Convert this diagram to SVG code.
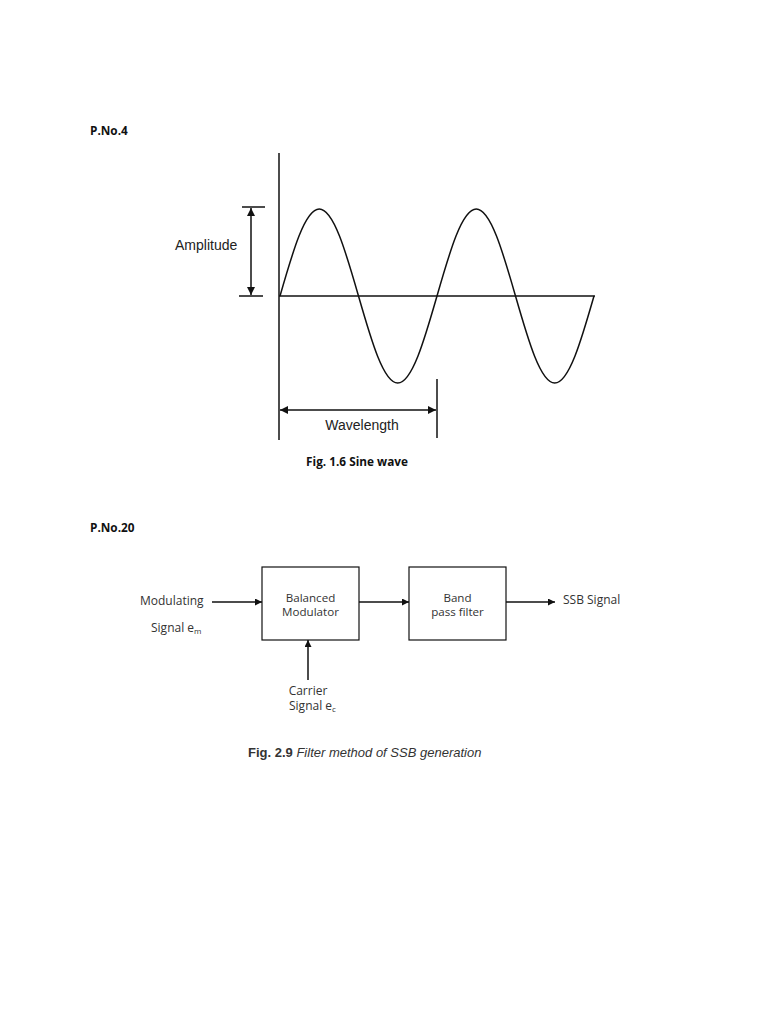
<svg xmlns="http://www.w3.org/2000/svg" width="768" height="1024" viewBox="0 0 768 1024">
<style>
.ln{stroke:#111;stroke-width:1.5;fill:none}
.bx{stroke:#111;stroke-width:1.2;fill:#fff}
.ar{font-family:"Liberation Sans",Arial,sans-serif;font-size:14px;fill:#222}
.cb{font-family:"Open Sans","Liberation Sans",sans-serif;font-size:12px;fill:#333}
.bt{font-family:"Open Sans","Liberation Sans",sans-serif;font-size:11.6px;fill:#333}
.hd{font-family:"Open Sans","Liberation Sans",sans-serif;font-size:11.8px;font-weight:bold;fill:#111}
.cap{font-family:"Liberation Sans",Arial,sans-serif;font-size:13px;fill:#333}
</style>
<defs>
<marker id="ah" viewBox="0 0 10 10" refX="10" refY="5" markerWidth="8" markerHeight="8" markerUnits="userSpaceOnUse" orient="auto-start-reverse"><path d="M0,0L10,5L0,10Z" fill="#111"/></marker>
<marker id="as" viewBox="0 0 10 10" refX="10" refY="5" markerWidth="7" markerHeight="7" markerUnits="userSpaceOnUse" orient="auto"><path d="M0,0L10,5L0,10Z" fill="#111"/></marker>
</defs>
<rect width="768" height="1024" fill="#fff"/>

<text class="hd" x="90" y="135">P.No.4</text>

<g id="sine-axes">
<line class="ln" x1="279" y1="153" x2="279" y2="440"/>
<line class="ln" x1="279" y1="296" x2="595" y2="296"/>
</g>
<g id="sine-wave">
<path class="ln" stroke-width="1.7" d="M280,296 c12.8,-44.6 25.06,-87 39.25,-87 s26.45,42.4 39.25,87 s25.06,87 39.25,87 s26.45,-42.4 39.25,-87 s25.06,-87 39.25,-87 s26.45,42.4 39.25,87 s25.06,87 39.25,87 s26.45,-42.4 39.25,-87"/>
</g>
<g id="amplitude">
<line class="ln" x1="242" y1="207" x2="265" y2="207"/>
<line class="ln" x1="239" y1="296" x2="263" y2="296"/>
<line class="ln" x1="251" y1="208" x2="251" y2="295" marker-start="url(#ah)" marker-end="url(#ah)"/>
<text class="ar" x="175" y="250">Amplitude</text>
</g>
<g id="wavelength">
<line class="ln" x1="437" y1="379" x2="437" y2="438"/>
<line class="ln" x1="280" y1="410" x2="436" y2="410" marker-start="url(#ah)" marker-end="url(#ah)"/>
<text class="ar" x="362" y="430" text-anchor="middle">Wavelength</text>
</g>
<text class="hd" x="357" y="466" text-anchor="middle">Fig. 1.6 Sine wave</text>

<text class="hd" x="90" y="532">P.No.20</text>

<g id="balanced-modulator">
<rect class="bx" x="262" y="567" width="97" height="73"/>
<text class="bt" x="310.5" y="602" text-anchor="middle">Balanced</text>
<text class="bt" x="310.5" y="616" text-anchor="middle">Modulator</text>
</g>
<g id="band-pass-filter">
<rect class="bx" x="409" y="567" width="97" height="73"/>
<text class="bt" x="457.5" y="602" text-anchor="middle">Band</text>
<text class="bt" x="457.5" y="616" text-anchor="middle">pass filter</text>
</g>
<g id="modulating-signal">
<text class="cb" x="140" y="605">Modulating</text>
<text class="cb" x="151" y="632">Signal e<tspan font-size="8" dy="2">m</tspan></text>
</g>
<g id="carrier-signal">
<text class="cb" x="308" y="695" text-anchor="middle" font-size="10.5">Carrier</text>
<text class="cb" x="289" y="710">Signal e<tspan font-size="8" dy="2">c</tspan></text>
</g>
<g id="ssb-signal">
<text class="cb" x="563" y="604">SSB Signal</text>
</g>
<g id="connectors">
<line class="ln" stroke-width="1.2" x1="212" y1="602" x2="262" y2="602" marker-end="url(#as)"/>
<line class="ln" stroke-width="1.2" x1="359" y1="602" x2="409" y2="602" marker-end="url(#as)"/>
<line class="ln" stroke-width="1.2" x1="506" y1="602" x2="555" y2="602" marker-end="url(#as)"/>
<line class="ln" stroke-width="1.2" x1="308" y1="680" x2="308" y2="640" marker-end="url(#as)"/>
</g>
<text class="cap" x="248" y="757"><tspan font-weight="bold">Fig. 2.9</tspan> <tspan font-style="italic">Filter method of SSB generation</tspan></text>
</svg>
